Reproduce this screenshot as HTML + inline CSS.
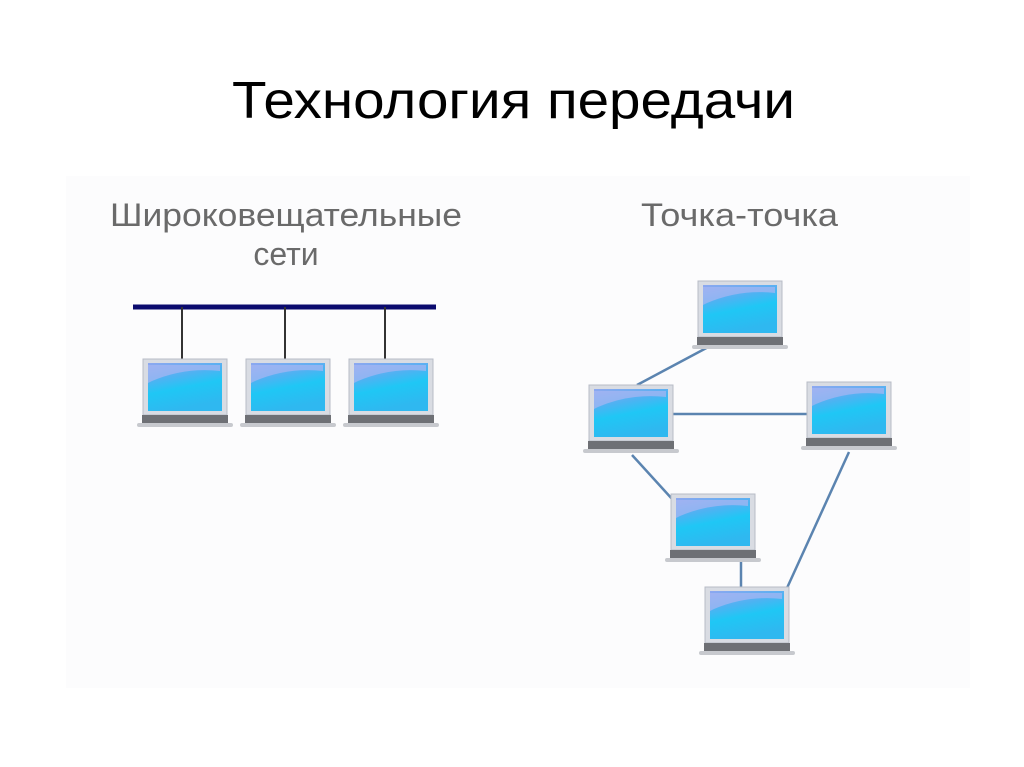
<!DOCTYPE html>
<html><head><meta charset="utf-8"><style>
html,body{margin:0;padding:0;background:#fff;}
body{width:1024px;height:767px;position:relative;overflow:hidden;font-family:"Liberation Sans","DejaVu Sans",sans-serif;}
</style></head><body>
<svg width="1024" height="767" xmlns="http://www.w3.org/2000/svg" style="position:absolute;left:0;top:0">
<defs>
<linearGradient id="scr" x1="0" y1="0" x2="0.3" y2="1">
<stop offset="0" stop-color="#8fa7f0"/><stop offset="0.35" stop-color="#4fb2f2"/><stop offset="0.6" stop-color="#1fc7f5"/><stop offset="1" stop-color="#2fb8f0"/>
</linearGradient>
<g id="lap">
<rect x="3" y="0" width="84" height="56" fill="#d9dce3" stroke="#b8bcc6" stroke-width="1"/>
<rect x="8" y="4" width="74" height="48" fill="url(#scr)"/>
<path d="M12 22 Q45 8 80 12 L80 6 L8 6 L8 24 Z" fill="#a9b6f2" opacity="0.7"/>
<rect x="2" y="56" width="86" height="9" fill="#6e7075"/>
<rect x="-3" y="64" width="96" height="4" rx="2" fill="#c7c9ce"/>
</g>
</defs>
<text x="232" y="118" font-size="52" textLength="563" lengthAdjust="spacingAndGlyphs" fill="#000">Технология передачи</text>
<rect x="66" y="176" width="904" height="512" fill="#fcfcfd"/>
<text x="110" y="226" font-size="32" textLength="352" lengthAdjust="spacingAndGlyphs" fill="#6a6a6a">Широковещательные</text>
<text x="286" y="265" font-size="32" text-anchor="middle" fill="#6a6a6a">сети</text>
<text x="641" y="226" font-size="32" textLength="197" lengthAdjust="spacingAndGlyphs" fill="#6a6a6a">Точка-точка</text>
<line x1="133" y1="307" x2="436" y2="307" stroke="#0b0b6e" stroke-width="5"/>
<g stroke="#333" stroke-width="2"><line x1="182" y1="307" x2="182" y2="360"/><line x1="285" y1="307" x2="285" y2="360"/><line x1="385" y1="307" x2="385" y2="360"/></g>
<use href="#lap" transform="translate(140,359)"/>
<use href="#lap" transform="translate(243,359)"/>
<use href="#lap" transform="translate(346,359)"/>
<g stroke="#5b84b0" stroke-width="2.5">
<line x1="637" y1="385" x2="712" y2="345"/>
<line x1="672" y1="414" x2="808" y2="414"/>
<line x1="632" y1="455" x2="673" y2="500"/>
<line x1="741" y1="560" x2="741" y2="588"/>
<line x1="849" y1="452" x2="787" y2="588"/>
</g>
<use href="#lap" transform="translate(695,281)"/>
<use href="#lap" transform="translate(586,385)"/>
<use href="#lap" transform="translate(804,382)"/>
<use href="#lap" transform="translate(668,494)"/>
<use href="#lap" transform="translate(702,587)"/>
</svg>
</body></html>
